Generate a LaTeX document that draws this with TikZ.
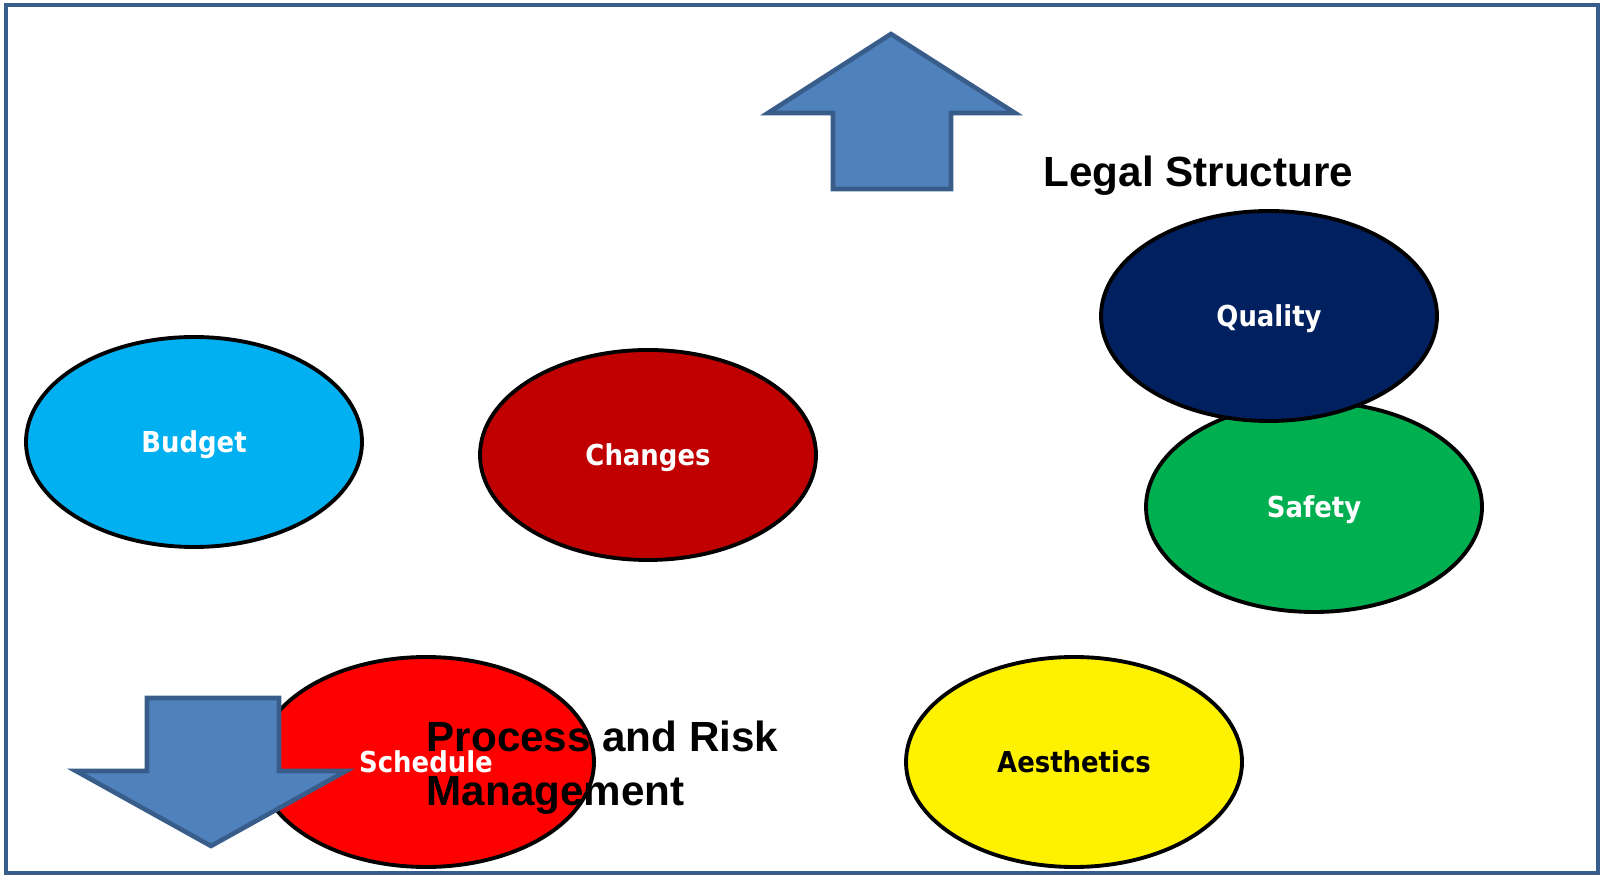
\documentclass[tikz,border=0pt]{standalone}
\usepackage{fontspec}
\setmainfont{Liberation Sans}
\newfontfamily\lblfont[FakeStretch=0.9]{DejaVu Sans}
\usetikzlibrary{shapes.geometric}

\definecolor{frameblue}{HTML}{385D8A}
\definecolor{arrowblue}{HTML}{4F81BD}
\definecolor{navy}{HTML}{002060}
\definecolor{safegreen}{HTML}{00B050}
\definecolor{skyblue}{HTML}{00B0F0}
\definecolor{darkred}{HTML}{C00000}

\begin{document}
\begin{tikzpicture}[x=0.1mm,y=-0.1mm, line join=miter]

		\tikzset{blob/.style={ellipse, draw=black, line width=1.1pt, minimum width=33.6mm, minimum height=21mm,
				inner sep=0pt, text depth=0pt, font=\lblfont\bfseries\fontsize{8.2}{9}\selectfont, text=white},
			big label/.style={font=\bfseries\fontsize{12}{15.5}\selectfont, inner sep=0pt, align=left},
			fat arrow/.style={fill=arrowblue, draw=frameblue, line width=1.3pt}}

		\useasboundingbox (0,0) rectangle (1601,875);
		\draw[frameblue, line width=1.3pt] (6,5) rectangle (1598,873);

		\node[blob, fill=skyblue] (budget) at (194,442) {Budget};
		\node[blob, fill=darkred] (changes) at (648,455) {Changes};
		\node[blob, fill=safegreen] (safety) at (1314,507) {Safety};
		\node[blob, fill=navy] (quality) at (1269,316) {Quality};
		\node[blob, fill=red] (schedule) at (426,762) {};
		\node[blob, fill=yellow, text=black] (aesthetics) at (1074,762) {Aesthetics};

		% up and down arrows
		\draw[fat arrow] (891,34)--(1015,113)--(951,113)--(951,189)--(833,189)--(833,113)--(768,113)--cycle;
		\draw[fat arrow] (147,698)--(279,698)--(279,771)--(346,771)--(211,846)--(76,771)--(147,771)--cycle;

		\node[font=\lblfont\bfseries\fontsize{8.2}{9}\selectfont, text=white, inner sep=0pt] at (schedule) {Schedule};

		\node[big label, anchor=base west] (legal) at (1043,187) {Legal Structure};
		\node[big label, anchor=base west] (process) at (426,806) {Process and Risk\\Management};
		\end{tikzpicture}
\end{document}
